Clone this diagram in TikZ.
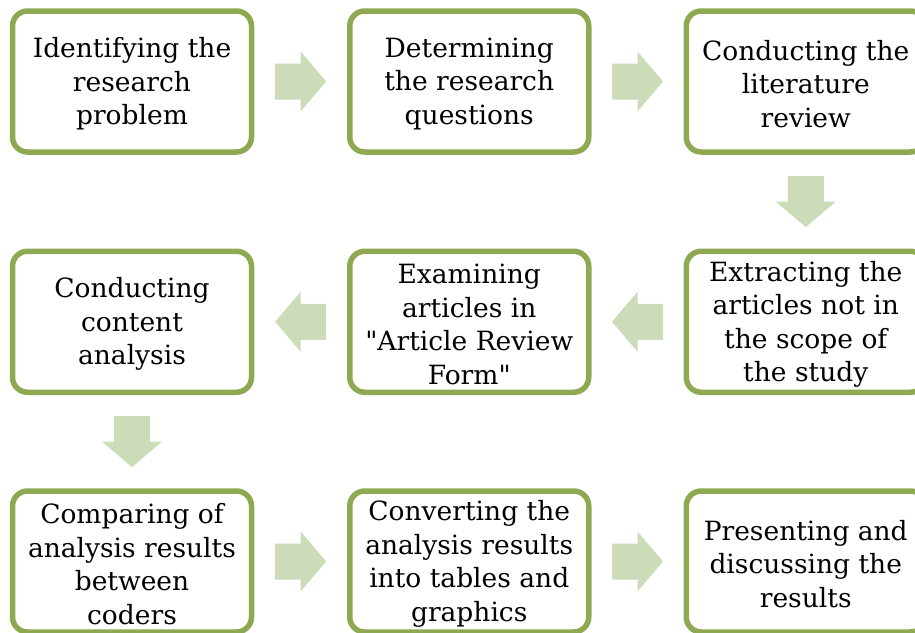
\documentclass[tikz,border=0pt]{standalone}
\usepackage{fontspec}
\setmainfont{DejaVu Serif}
\usetikzlibrary{calc}
\definecolor{boxline}{RGB}{142,169,82}
\definecolor{arrowfill}{RGB}{204,220,184}
\tikzset{
  stepbox/.style={draw=boxline, line width=5.5pt, rounded corners=15pt, fill=white,
    minimum width=239pt, minimum height=141pt},
  steptext/.style={align=center, inner sep=0pt,
    font=\fontsize{26.5}{33.5}\selectfont, text=black},
  blockarrow/.pic={\fill[arrowfill] (-25.5,-18) -- (0,-18) -- (0,-30) -- (25.5,0) -- (0,30) -- (0,18) -- (-25.5,18) -- cycle;}
}
\newcommand{\stepnode}[3]{%
  \node[stepbox] (#1) at (#2) {};
  \node[steptext] (#1t) at ([yshift=-2.5pt]#1.center) {#3};}
\begin{document}
\begin{tikzpicture}[x=1pt,y=-1pt]
\useasboundingbox (0,0) rectangle (915,632);
\clip (0,0) rectangle (915,632);
% row 1
\stepnode{a}{132,81.5}{Identifying the\\research\\problem}
\stepnode{b}{469.25,81.5}{Determining\\the research\\questions}
\stepnode{c}{805.75,81.5}{Conducting the\\literature\\review}
% row 2
\stepnode{f}{132,321.75}{Conducting\\content\\analysis}
\stepnode{e}{469.25,321.75}{Examining\\articles in\\\textquotedbl Article Review\\Form\textquotedbl}
\stepnode{d}{805.75,321.75}{Extracting the\\articles not in\\the scope of\\the study}
% row 3
\stepnode{g}{132,561.5}{Comparing of\\analysis results\\between\\coders}
\stepnode{h}{469.25,561.5}{Converting the\\analysis results\\into tables and\\graphics}
\stepnode{i}{805.75,561.5}{Presenting and\\discussing the\\results}
% arrows
\pic at ($(a.east)!0.5!(b.west)$) {blockarrow};
\pic at ($(b.east)!0.5!(c.west)$) {blockarrow};
\pic[rotate=-90] at ($(c.south)!0.5!(d.north)$) {blockarrow};
\pic[rotate=180] at ($(d.west)!0.5!(e.east)$) {blockarrow};
\pic[rotate=180] at ($(e.west)!0.5!(f.east)$) {blockarrow};
\pic[rotate=-90] at ($(f.south)!0.5!(g.north)$) {blockarrow};
\pic at ($(g.east)!0.5!(h.west)$) {blockarrow};
\pic at ($(h.east)!0.5!(i.west)$) {blockarrow};
\end{tikzpicture}
\end{document}
